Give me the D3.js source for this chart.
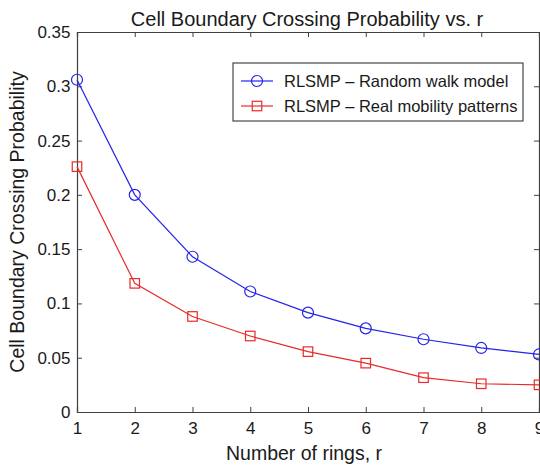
<!DOCTYPE html>
<html>
<head>
<meta charset="utf-8">
<script src="https://cdn.jsdelivr.net/npm/d3@7"></script>
<style>
  html, body { margin: 0; padding: 0; background: #fff; }
  svg { display: block; font-family: "Liberation Sans", Arial, Helvetica, sans-serif; }
</style>
</head>
<body>
<svg id="chart" width="540" height="466"></svg>
<script>
// Number of rings
const rings = [1, 2, 3, 4, 5, 6, 7, 8, 9];
// Crossing probability, random walk model
const randomWalk = [0.306, 0.200, 0.143, 0.111, 0.0915, 0.077, 0.067, 0.059, 0.053];
// Crossing probability, real mobility patterns
const realMobility = [0.226, 0.1185, 0.088, 0.070, 0.0556, 0.045, 0.0316, 0.026, 0.025];
// Axis ticks
const xTicks = [1, 2, 3, 4, 5, 6, 7, 8, 9];
const yTicks = [0, 0.05, 0.1, 0.15, 0.2, 0.25, 0.3, 0.35];
const yTickLabels = ["0", "0.05", "0.1", "0.15", "0.2", "0.25", "0.3", "0.35"];
const seriesNames = ["RLSMP \u2013 Random walk model", "RLSMP \u2013 Real mobility patterns"];

const svg = d3.select("#chart");
const plotLeft = 77, plotRight = 539, plotTop = 32, plotBottom = 412;

const x = d3.scaleLinear().domain([1, 9]).range([plotLeft, plotRight]);
const y = d3.scaleLinear().domain([0, 0.35]).range([plotBottom, plotTop]);

const axisColor = "#404040";
const textColor = "#1a1a1a";
const blue = "#2424e8";
const red = "#e82a2a";
const tickLen = 5;
const fontStack = "'Liberation Sans', Arial, sans-serif";

// Axes with inward ticks on all four sides
const gx = svg.append("g").attr("transform", `translate(0,${plotBottom})`)
  .call(d3.axisBottom(x).tickValues(xTicks).tickSize(-tickLen).tickPadding(10).tickFormat(d3.format("d")));
const gxTop = svg.append("g").attr("transform", `translate(0,${plotTop})`)
  .call(d3.axisTop(x).tickValues(xTicks).tickSize(-tickLen).tickFormat(""));
const gy = svg.append("g").attr("transform", `translate(${plotLeft},0)`)
  .call(d3.axisLeft(y).tickValues(yTicks).tickSize(-tickLen).tickPadding(6.5)
    .tickFormat((d, i) => yTickLabels[i]));
const gyRight = svg.append("g").attr("transform", `translate(${plotRight},0)`)
  .call(d3.axisRight(y).tickValues(yTicks).tickSize(-tickLen).tickFormat(""));

[gx, gxTop, gy, gyRight].forEach(g => {
  g.select(".domain").attr("stroke", axisColor).attr("stroke-width", 1.2);
  g.selectAll(".tick line").attr("stroke", axisColor).attr("stroke-width", 1);
  g.selectAll(".tick text").attr("fill", textColor).style("font-size", "17px")
    .style("font-family", fontStack);
});

// Series lines
const line = d3.line().x((d, i) => x(rings[i])).y(d => y(d));

svg.append("path").datum(randomWalk)
  .attr("fill", "none").attr("stroke", blue).attr("stroke-width", 1.2).attr("d", line);
svg.append("path").datum(realMobility)
  .attr("fill", "none").attr("stroke", red).attr("stroke-width", 1.2).attr("d", line);

// Markers
svg.append("g").selectAll("circle").data(randomWalk).join("circle")
  .attr("cx", (d, i) => x(rings[i])).attr("cy", d => y(d)).attr("r", 5.5)
  .attr("fill", "none").attr("stroke", blue).attr("stroke-width", 1.2);

const sq = 9.5;
svg.append("g").selectAll("rect").data(realMobility).join("rect")
  .attr("x", (d, i) => x(rings[i]) - sq / 2).attr("y", d => y(d) - sq / 2)
  .attr("width", sq).attr("height", sq)
  .attr("fill", "none").attr("stroke", red).attr("stroke-width", 1.2);

// Legend
const legend = svg.append("g");
legend.append("rect").attr("x", 233).attr("y", 63).attr("width", 290).attr("height", 58)
  .attr("fill", "#fff").attr("stroke", "#222").attr("stroke-width", 1);
const rowsY = [81, 106];
const colors = [blue, red];
rowsY.forEach((ry, i) => {
  legend.append("line").attr("x1", 241).attr("x2", 273).attr("y1", ry).attr("y2", ry)
    .attr("stroke", colors[i]).attr("stroke-width", 1.2);
  if (i === 0) {
    legend.append("circle").attr("cx", 257).attr("cy", ry).attr("r", 5.5)
      .attr("fill", "none").attr("stroke", colors[i]).attr("stroke-width", 1.2);
  } else {
    legend.append("rect").attr("x", 257 - sq / 2).attr("y", ry - sq / 2).attr("width", sq).attr("height", sq)
      .attr("fill", "none").attr("stroke", colors[i]).attr("stroke-width", 1.2);
  }
  legend.append("text").attr("x", 284).attr("y", ry).attr("dy", "0.36em")
    .attr("fill", textColor).style("font-size", "16.5px").text(seriesNames[i]);
});

// Title and axis labels
svg.append("text").attr("x", 307).attr("y", 26).attr("text-anchor", "middle")
  .attr("fill", textColor).style("font-size", "20px").text("Cell Boundary Crossing Probability vs. r");
svg.append("text").attr("x", 304).attr("y", 460).attr("text-anchor", "middle")
  .attr("fill", textColor).style("font-size", "19.5px").text("Number of rings, r");
svg.append("text").attr("transform", `translate(24,${(plotTop + plotBottom) / 2}) rotate(-90)`)
  .attr("text-anchor", "middle").attr("fill", textColor).style("font-size", "19.5px")
  .text("Cell Boundary Crossing Probability");
</script>
</body>
</html>
